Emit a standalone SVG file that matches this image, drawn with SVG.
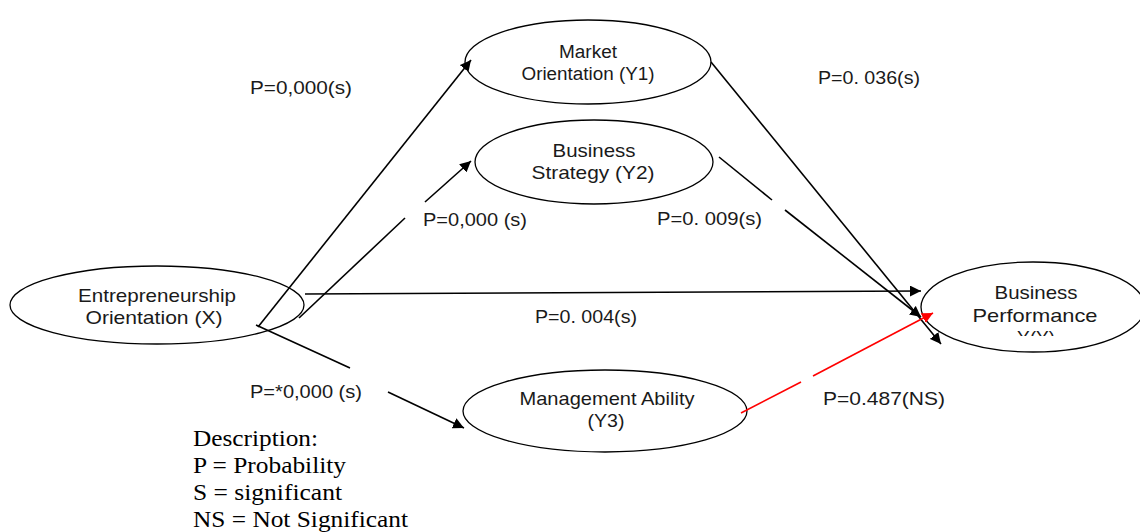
<svg xmlns="http://www.w3.org/2000/svg" width="1140" height="532" viewBox="0 0 1140 532">
<defs>
<marker id="ah" viewBox="0 0 10 10" refX="10" refY="5" markerWidth="11" markerHeight="11" markerUnits="userSpaceOnUse" orient="auto"><path d="M0,0 L10,5 L0,10 z" fill="#000"/></marker>
<marker id="ahr" viewBox="0 0 10 10" refX="10" refY="5" markerWidth="11" markerHeight="11" markerUnits="userSpaceOnUse" orient="auto"><path d="M0,0 L10,5 L0,10 z" fill="#ff0000"/></marker>
<clipPath id="bpclip"><rect x="900" y="250" width="240" height="86"/></clipPath>
</defs>
<style>
.node{fill:#fff;stroke:#000;stroke-width:1.3}
.t{font-family:"Liberation Sans",Arial,sans-serif;font-size:19px;fill:#1a1a1a;text-anchor:middle}
.lbl{font-family:"Liberation Sans",Arial,sans-serif;font-size:19px;fill:#1a1a1a}
.desc{font-family:"Liberation Serif","Times New Roman",serif;font-size:24px;fill:#000}
.c{stroke:#000;stroke-width:1.6;fill:none}
.r{stroke:#ff0000;stroke-width:1.6;fill:none}
</style>
<rect width="1140" height="532" fill="#fff"/>
<g id="n-y1"><ellipse class="node" cx="588" cy="62" rx="123" ry="42"/><text class="t" x="588" y="58" style="font-size:18px" textLength="58" lengthAdjust="spacingAndGlyphs">Market</text><text class="t" x="588" y="80" style="font-size:18px" textLength="133" lengthAdjust="spacingAndGlyphs">Orientation (Y1)</text></g>
<g id="n-y2"><ellipse class="node" cx="594" cy="162" rx="119" ry="42"/><text class="t" x="594" y="157" textLength="83" lengthAdjust="spacingAndGlyphs">Business</text><text class="t" x="593" y="179" textLength="123" lengthAdjust="spacingAndGlyphs">Strategy (Y2)</text></g>
<g id="n-x"><ellipse class="node" cx="157" cy="305" rx="147" ry="39"/><text class="t" x="157" y="302" textLength="158" lengthAdjust="spacingAndGlyphs">Entrepreneurship</text><text class="t" x="154" y="324" textLength="137" lengthAdjust="spacingAndGlyphs">Orientation (X)</text></g>
<g id="n-y"><ellipse class="node" cx="1033" cy="307" rx="112" ry="45"/><text class="t" x="1036" y="299" textLength="83" lengthAdjust="spacingAndGlyphs">Business</text><text class="t" x="1035" y="322" textLength="125" lengthAdjust="spacingAndGlyphs">Performance</text><text class="t" x="1036" y="344" clip-path="url(#bpclip)">Y(Y)</text></g>
<g id="n-y3"><ellipse class="node" cx="605" cy="411" rx="142" ry="41"/><text class="t" x="607" y="405" textLength="175" lengthAdjust="spacingAndGlyphs">Management Ability</text><text class="t" x="606" y="427" textLength="37" lengthAdjust="spacingAndGlyphs">(Y3)</text></g>
<g id="connectors">
<line class="c" x1="258" y1="327" x2="471" y2="60" marker-end="url(#ah)"/>
<line class="c" x1="299" y1="318" x2="405" y2="218"/>
<line class="c" x1="425" y1="202" x2="471" y2="161" marker-end="url(#ah)"/>
<line class="c" x1="305" y1="294" x2="921" y2="291" marker-end="url(#ah)"/>
<line class="c" x1="256" y1="325" x2="350" y2="368"/>
<line class="c" x1="388" y1="392" x2="464" y2="428" marker-end="url(#ah)"/>
<line class="c" x1="711" y1="62" x2="941" y2="344" marker-end="url(#ah)"/>
<line class="c" x1="719" y1="157" x2="772" y2="200"/>
<line class="c" x1="785" y1="210" x2="921" y2="317" marker-end="url(#ah)"/>
<line class="r" x1="741" y1="413" x2="801" y2="382"/>
<line class="r" x1="813" y1="376" x2="933" y2="313" marker-end="url(#ahr)"/>
</g>
<g id="labels">
<text class="lbl" x="250" y="94" textLength="102" lengthAdjust="spacingAndGlyphs">P=0,000(s)</text>
<text class="lbl" x="818" y="84" textLength="102" lengthAdjust="spacingAndGlyphs">P=0. 036(s)</text>
<text class="lbl" x="423" y="226" textLength="104" lengthAdjust="spacingAndGlyphs">P=0,000 (s)</text>
<text class="lbl" x="657" y="225" textLength="105" lengthAdjust="spacingAndGlyphs">P=0. 009(s)</text>
<text class="lbl" x="535" y="323" textLength="102" lengthAdjust="spacingAndGlyphs">P=0. 004(s)</text>
<text class="lbl" x="250" y="398" textLength="112" lengthAdjust="spacingAndGlyphs">P=*0,000 (s)</text>
<text class="lbl" x="823" y="405" textLength="122" lengthAdjust="spacingAndGlyphs">P=0.487(NS)</text>
</g>
<g id="legend">
<text class="desc" x="193" y="446" textLength="125" lengthAdjust="spacingAndGlyphs">Description:</text>
<text class="desc" x="193" y="473" textLength="153" lengthAdjust="spacingAndGlyphs">P = Probability</text>
<text class="desc" x="193" y="500" textLength="149" lengthAdjust="spacingAndGlyphs">S = significant</text>
<text class="desc" x="193" y="527" textLength="215" lengthAdjust="spacingAndGlyphs">NS = Not Significant</text>
</g>
</svg>
